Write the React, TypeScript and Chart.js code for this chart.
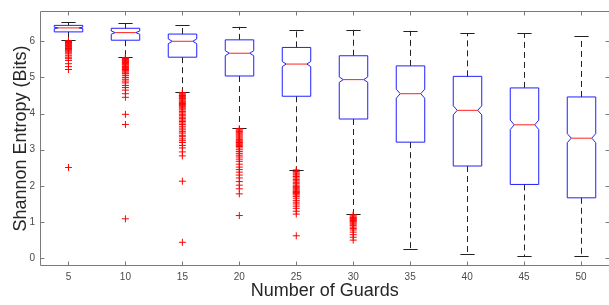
import React, { useEffect, useRef } from "react";
import { Chart, registerables } from "chart.js";

Chart.register(...registerables);

const categories = ["5", "10", "15", "20", "25", "30", "35", "40", "45", "50"];
const whiskerHigh = [6.52, 6.5, 6.45, 6.4, 6.32, 6.32, 6.29, 6.22, 6.22, 6.14];
const q3 = [6.44, 6.36, 6.2, 6.04, 5.83, 5.6, 5.32, 5.03, 4.71, 4.46];
const medians = [6.37, 6.24, 6.0, 5.67, 5.37, 4.94, 4.55, 4.09, 3.69, 3.32];
const q1 = [6.26, 6.03, 5.56, 5.04, 4.48, 3.85, 3.21, 2.55, 2.04, 1.67];
const whiskerLow = [6.03, 5.56, 4.59, 3.59, 2.45, 1.22, 0.26, 0.11, 0.06, 0.05];
const notchHalf = [0.02, 0.045, 0.065, 0.07, 0.07, 0.075, 0.125, 0.125, 0.13, 0.125];

const out5 = [6.02, 6.0, 5.99, 5.97, 5.96, 5.95, 5.93, 5.92, 5.9, 5.88, 5.86, 5.84, 5.82, 5.8, 5.77, 5.74, 5.71, 5.68, 5.65, 5.6, 5.56, 5.52, 5.47, 5.38, 5.3, 5.22, 2.51];
const out10 = [5.55, 5.53, 5.52, 5.5, 5.48, 5.46, 5.45, 5.43, 5.41, 5.39, 5.37, 5.35, 5.32, 5.3, 5.28, 5.26, 5.24, 5.22, 5.2, 5.18, 5.15, 5.12, 5.1, 5.05, 5.0, 4.95, 4.9, 4.85, 4.78, 4.72, 4.65, 4.55, 4.45, 3.98, 3.7, 1.09];
const out15 = [4.58, 4.55, 4.52, 4.5, 4.47, 4.44, 4.42, 4.4, 4.37, 4.34, 4.31, 4.28, 4.25, 4.22, 4.19, 4.16, 4.13, 4.1, 4.06, 4.02, 3.98, 3.94, 3.9, 3.86, 3.82, 3.78, 3.74, 3.7, 3.65, 3.6, 3.55, 3.5, 3.46, 3.4, 3.36, 3.3, 3.25, 3.2, 3.12, 3.05, 2.94, 2.83, 2.13, 0.44];
const out20 = [3.58, 3.55, 3.52, 3.5, 3.47, 3.44, 3.41, 3.38, 3.35, 3.32, 3.28, 3.25, 3.22, 3.2, 3.18, 3.15, 3.12, 3.09, 3.05, 3.0, 2.95, 2.9, 2.85, 2.8, 2.74, 2.68, 2.6, 2.52, 2.45, 2.38, 2.3, 2.22, 2.12, 2.02, 1.92, 1.78, 1.18];
const out25 = [2.44, 2.4, 2.36, 2.33, 2.3, 2.26, 2.22, 2.18, 2.14, 2.1, 2.06, 2.02, 1.98, 1.95, 1.92, 1.89, 1.86, 1.84, 1.82, 1.8, 1.78, 1.75, 1.71, 1.66, 1.6, 1.55, 1.5, 1.44, 1.38, 1.3, 1.22, 0.62];
const out30 = [1.2, 1.17, 1.14, 1.12, 1.1, 1.08, 1.06, 1.04, 1.02, 1.0, 0.97, 0.94, 0.9, 0.86, 0.82, 0.78, 0.72, 0.65, 0.58, 0.5];
const out35: number[] = [];
const out40: number[] = [];
const out45: number[] = [];
const out50: number[] = [];
const outliers = [out5, out10, out15, out20, out25, out30, out35, out40, out45, out50];

const yTicks = [0, 1, 2, 3, 4, 5, 6];
const yMin = -0.216;
const yMax = 6.838;

const FONT = "'Liberation Sans', Arial, Helvetica, sans-serif";
const AXIS_COLOR = "#7a7a7a";

const boxPlugin = {
  id: "notchedBoxes",
  beforeDatasetsDraw(chart: any) {
    const { ctx, chartArea } = chart;
    const x = chart.scales.x;
    const y = chart.scales.y;
    const step = x.getPixelForValue(1) - x.getPixelForValue(0);
    const hw = step * 0.25;
    const ind = hw * 0.28;
    const capHw = hw * 0.5;
    ctx.save();
    ctx.lineWidth = 1;
    for (let i = 0; i < categories.length; i++) {
      const cx = Math.round(x.getPixelForValue(i)) + 0.5;
      const yq3 = y.getPixelForValue(q3[i]);
      const yq1 = y.getPixelForValue(q1[i]);
      const ym = y.getPixelForValue(medians[i]);
      const ynh = y.getPixelForValue(medians[i] + notchHalf[i]);
      const ynl = y.getPixelForValue(medians[i] - notchHalf[i]);
      const ywh = y.getPixelForValue(whiskerHigh[i]);
      const ywl = y.getPixelForValue(whiskerLow[i]);
      // whiskers
      ctx.strokeStyle = "#222222";
      ctx.setLineDash([6, 4]);
      ctx.beginPath();
      ctx.moveTo(cx, yq3);
      ctx.lineTo(cx, ywh);
      ctx.moveTo(cx, yq1);
      ctx.lineTo(cx, ywl);
      ctx.stroke();
      ctx.setLineDash([]);
      ctx.beginPath();
      ctx.moveTo(cx - capHw, Math.round(ywh) + 0.5);
      ctx.lineTo(cx + capHw, Math.round(ywh) + 0.5);
      ctx.moveTo(cx - capHw, Math.round(ywl) + 0.5);
      ctx.lineTo(cx + capHw, Math.round(ywl) + 0.5);
      ctx.stroke();
      // box
      const l = cx - hw;
      const r = cx + hw;
      ctx.strokeStyle = "#2020ff";
      ctx.beginPath();
      ctx.moveTo(l, yq3);
      ctx.lineTo(r, yq3);
      ctx.lineTo(r, ynh);
      ctx.lineTo(r - ind, ym);
      ctx.lineTo(r, ynl);
      ctx.lineTo(r, yq1);
      ctx.lineTo(l, yq1);
      ctx.lineTo(l, ynl);
      ctx.lineTo(l + ind, ym);
      ctx.lineTo(l, ynh);
      ctx.closePath();
      ctx.stroke();
      // median
      ctx.strokeStyle = "#ff2020";
      ctx.beginPath();
      ctx.moveTo(l + ind, ym);
      ctx.lineTo(r - ind, ym);
      ctx.stroke();
    }
    // frame with inward ticks
    const L = Math.round(chartArea.left) + 0.5;
    const R = Math.round(chartArea.right) - 0.5;
    const T = Math.round(chartArea.top) + 0.5;
    const B = Math.round(chartArea.bottom) - 0.5;
    ctx.strokeStyle = AXIS_COLOR;
    ctx.beginPath();
    ctx.rect(L, T, R - L, B - T);
    const tl = 4;
    for (const v of yTicks) {
      const py = Math.round(y.getPixelForValue(v)) + 0.5;
      ctx.moveTo(L, py);
      ctx.lineTo(L + tl, py);
      ctx.moveTo(R, py);
      ctx.lineTo(R - tl, py);
    }
    for (let i = 0; i < categories.length; i++) {
      const px = Math.round(x.getPixelForValue(i)) + 0.5;
      ctx.moveTo(px, T);
      ctx.lineTo(px, T + tl);
      ctx.moveTo(px, B);
      ctx.lineTo(px, B - tl);
    }
    ctx.stroke();
    ctx.restore();
  },
};

export default function App() {
  const ref = useRef<HTMLCanvasElement | null>(null);
  useEffect(() => {
    if (!ref.current) return;
    const points: { x: string; y: number }[] = [];
    outliers.forEach((arr, i) => {
      arr.forEach((v) => points.push({ x: categories[i], y: v }));
    });
    const chart = new Chart(ref.current, {
      type: "line",
      data: {
        labels: categories,
        datasets: [
          {
            label: "Outliers",
            data: points as any,
            showLine: false,
            pointStyle: "cross",
            pointRadius: 3.5,
            pointHoverRadius: 3.5,
            pointBorderColor: "#ff0000",
            pointBackgroundColor: "#ff0000",
            pointBorderWidth: 1,
            borderColor: "#ff0000",
          },
        ],
      },
      options: {
        animation: false,
        responsive: false,
        events: [],
        layout: { padding: { top: 5, right: 2, left: 0, bottom: 0 } },
        plugins: { legend: { display: false }, tooltip: { enabled: false } },
        scales: {
          x: {
            type: "category",
            offset: true,
            grid: { display: false, drawTicks: false, tickLength: 0 },
            border: { display: false },
            ticks: {
              color: "#4a4a4a",
              font: { family: FONT, size: 10 },
              padding: 5,
              maxRotation: 0,
              autoSkip: false,
            },
            title: {
              display: true,
              text: "Number of Guards",
              color: "#262626",
              font: { family: FONT, size: 18 },
              padding: { top: 0, bottom: 3 },
            },
            afterFit: (s: any) => {
              s.height = 39;
            },
          },
          y: {
            type: "linear",
            min: yMin,
            max: yMax,
            grid: { display: false, drawTicks: false, tickLength: 0 },
            border: { display: false },
            ticks: {
              stepSize: 1,
              includeBounds: false,
              color: "#4a4a4a",
              font: { family: FONT, size: 10 },
              padding: 5,
            },
            title: {
              display: true,
              text: "Shannon Entropy (Bits)",
              color: "#262626",
              font: { family: FONT, size: 18 },
              padding: { top: 10, bottom: 0 },
            },
            afterFit: (s: any) => {
              s.width = 40;
            },
          },
        },
      },
      plugins: [boxPlugin],
    });
    return () => chart.destroy();
  }, []);
  return (
    <div
      style={{
        position: "fixed",
        left: 0,
        top: 0,
        width: 609,
        height: 305,
        overflow: "hidden",
        background: "#ffffff",
      }}
    >
      <canvas ref={ref} width={614} height={305} style={{ display: "block" }} />
    </div>
  );
}
